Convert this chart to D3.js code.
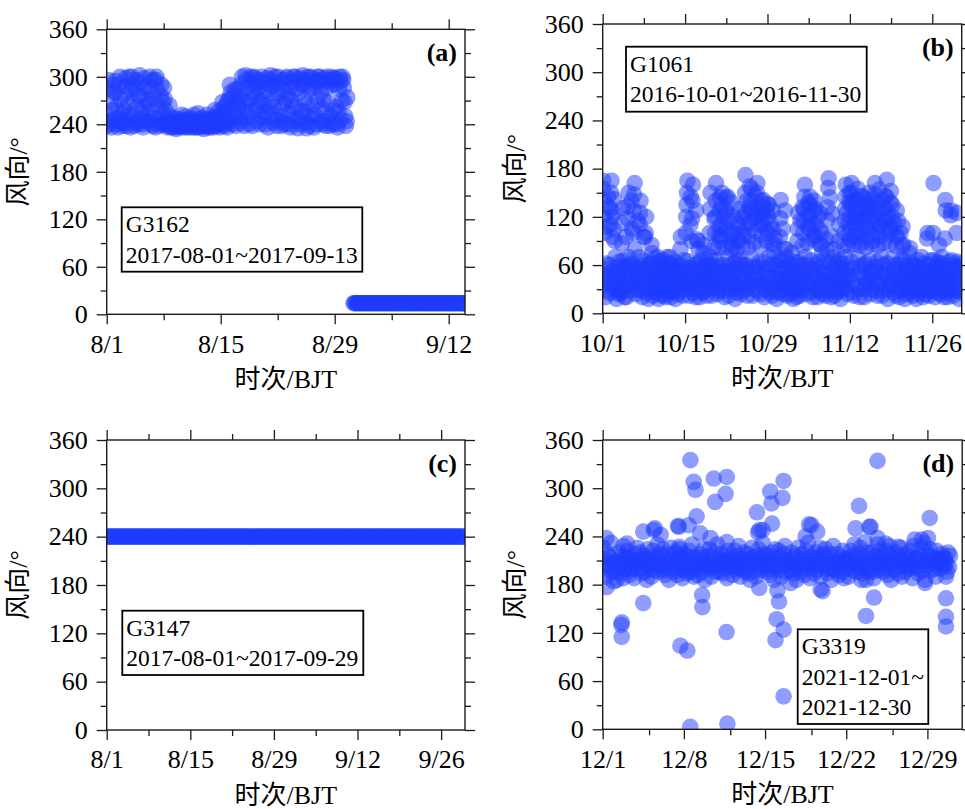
<!DOCTYPE html>
<html>
<head>
<meta charset="utf-8">
<script src="https://cdn.jsdelivr.net/npm/d3@7"></script>
<style>
  body { margin: 0; background: #fff; }
</style>
</head>
<body>
<svg id="chart" width="965" height="809"></svg>
<script>
// Wind direction (°), one string per day, evenly spaced samples; "-" = missing

// G3162, 2017-08-01 .. 2017-09-13
const dirA = [
  "238 252 296 285 244 240 270 236 258 290 246 280",
  "295 280 262 240 236 248 290 300 272 244 254 238",
  "242 258 278 298 288 238 246 266 300 252 236 284",
  "300 290 270 250 238 242 284 296 262 240 276 246",
  "302 292 276 256 240 236 262 298 286 244 250 270",
  "244 266 288 300 280 258 240 238 296 272 248 236",
  "296 300 284 264 248 238 242 276 290 254 240 268",
  "286 272 258 246 240 236 238 244 264 250 240 236",
  "240 236 244 238 248 242 234 240 246 236 242 238",
  "238 246 252 240 236 244 238 242 250 236 240 246",
  "242 236 240 248 244 238 236 240 252 242 236 244",
  "236 244 254 246 238 240 236 242 248 240 234 238",
  "240 238 246 252 242 236 240 244 236 248 242 238",
  "246 236 240 258 250 242 238 248 256 240 236 244",
  "252 240 268 260 244 238 256 264 248 236 270 242",
  "272 290 280 262 246 240 258 276 284 250 238 266",
  "284 270 262 250 242 276 290 300 268 246 238 258",
  "302 296 286 268 250 240 272 292 300 256 238 280",
  "298 300 290 276 258 244 264 286 296 240 252 270",
  "300 294 280 266 248 240 256 282 298 236 262 290",
  "296 302 288 270 252 242 262 290 300 246 238 278",
  "300 292 278 258 244 238 250 284 296 266 240 272",
  "298 300 292 276 254 240 236 270 288 246 262 300",
  "294 300 284 262 244 235 248 280 298 240 256 290",
  "302 296 290 272 256 242 235 266 300 250 238 284",
  "300 298 286 264 248 236 252 288 294 240 270 300",
  "296 300 292 280 260 244 240 272 298 254 238 286",
  "300 294 268 244 238 250 296 300 290 240 258 298",
  "298 290 262 240 236 256 284 300 294 246 270 300",
  "296 286 268 250 238 244 274 - - - - -",
  "- - 14 14 14 14 14 14",
  "14 14 14 14 14 14 14 14",
  "14 14 14 14 14 14 14 14",
  "14 14 14 14 14 14 14 14",
  "14 14 14 14 14 14 14 14",
  "14 14 14 14 14 14 14 14",
  "14 14 14 14 14 14 14 14",
  "14 14 14 14 14 14 14 14",
  "14 14 14 14 14 14 14 14",
  "14 14 14 14 14 14 14 14",
  "14 14 14 14 14 14 14 14",
  "14 14 14 14 14 14 14 14",
  "14 14 14 14 14 14 14 14",
  "14 14 14 14 14 14 14 14"
];

// G1061, 2016-10-01 .. 2016-11-30
const dirB = [
  "155 165 140 120 100 55 35 20 40 62 28 48 108 145 132",
  "60 45 25 38 110 130 150 165 120 95 52 32 125 104 142",
  "90 70 50 30 18 42 58 36 24 64 46 28",
  "25 40 55 87 112 131 66 30 48 20 58 36 95",
  "20 38 58 118 133 150 70 45 28 52 34 62 140 105",
  "35 60 100 128 148 162 80 42 24 54 30 46 115",
  "50 30 70 110 125 140 60 28 44 20 56 38 95",
  "40 65 95 100 120 55 25 35 48 18 60 30",
  "30 48 62 85 75 40 22 55 36 68 26 44",
  "44 28 60 70 36 18 52 40 24 64 32 56",
  "38 55 22 66 45 30 60 48 20 52 34 70",
  "50 34 62 25 44 70 36 20 58 40 28 54",
  "28 46 64 38 18 56 42 32 60 24 50 36",
  "36 52 80 95 60 28 45 22 40 66 30 54",
  "40 100 120 135 150 165 65 30 48 22 56 36 110 145",
  "48 90 118 140 160 55 25 38 60 30 44 20 128 92",
  "34 62 90 80 44 20 56 30 66 40 26 50",
  "42 75 85 58 28 50 36 66 22 46 60 32",
  "30 55 100 130 150 70 40 22 48 60 34 54 82 118",
  "46 100 120 140 162 66 32 54 24 40 58 28 82 96 108 128 144 90",
  "38 95 110 135 150 60 28 48 122 36 52 20 82 104 128 144",
  "52 105 125 145 70 35 22 44 115 60 30 46 88 96 138 80",
  "40 85 100 120 62 30 50 18 56 36 66 26 78 92 112",
  "34 90 110 130 66 45 24 56 100 38 60 28 84 120 96",
  "48 105 125 150 172 60 30 40 140 22 54 36 82 96 112 132 158",
  "36 115 130 140 155 68 42 22 125 50 30 58 88 102 118 146",
  "44 120 130 150 162 58 28 50 110 38 64 24 84 98 140 124",
  "38 110 125 132 141 64 34 20 118 46 56 30 90 104 128 136",
  "52 100 120 135 70 40 26 46 110 60 32 22 86 128 104",
  "30 75 85 93 60 44 18 36 54 26 66 40",
  "42 95 118 141 66 28 50 24 105 38 58 32 80 128",
  "36 70 80 55 22 46 30 62 40 24 52 34",
  "44 75 60 32 18 52 38 26 64 30 48 20",
  "30 90 105 125 64 40 22 54 115 36 60 28 84 132",
  "46 100 115 130 145 160 70 34 52 24 40 60 88 108 122 138",
  "38 105 120 135 145 66 26 50 110 32 56 20 92 128 98 140",
  "52 95 110 130 60 30 44 20 120 38 64 28 86 104 124",
  "34 85 100 75 48 24 58 40 66 30 50 22 92",
  "42 79 116 132 156 168 62 28 144 50 36 20 96 124",
  "36 70 80 54 22 46 30 60 40 26 64 34",
  "48 90 110 66 38 18 56 28 44 62 32 52 84",
  "40 100 115 130 145 160 70 32 125 54 24 46 84 98 112 138 150 92",
  "46 105 120 135 150 162 64 26 140 38 56 22 86 96 112 128 142 118",
  "34 95 110 125 140 155 68 48 118 30 58 20 84 102 132 146 88",
  "50 100 115 130 145 60 30 20 135 42 62 36 82 94 108 124 140",
  "38 105 120 135 150 66 44 24 128 56 30 52 86 98 114 142 90",
  "44 115 130 148 162 58 28 52 122 36 64 22 84 100 108 136 154",
  "36 95 110 125 140 70 40 22 132 50 28 60 88 104 118 146",
  "48 115 130 145 166 62 30 18 120 42 54 34 86 98 108 138 152",
  "40 104 120 135 68 34 54 26 112 46 60 22 84 96 128",
  "32 95 115 60 44 20 50 38 100 28 66 42 84 108",
  "46 85 66 30 18 56 40 24 60 34 52 28",
  "38 75 81 52 26 44 62 34 22 58 40 30",
  "42 60 30 18 50 36 66 24 46 56 28 38",
  "36 56 70 28 46 20 62 40 30 52 24 44",
  "44 93 100 60 32 22 52 38 66 28 48 34",
  "30 100 162 66 42 20 54 36 58 26 46 64",
  "48 85 62 34 24 56 40 70 28 52 36 20",
  "36 93 141 128 60 26 46 20 54 32 64 40",
  "44 122 128 66 30 52 22 38 60 28 48 56",
  "40 100 125 64 28 50 18 34 58 44 26 62"
];

// G3147, 2017-08-01 .. 2017-09-29
const dirC = [
  "240 240 240 240", "240 240 240 240", "240 240 240 240", "240 240 240 240",
  "240 240 240 240", "240 240 240 240", "240 240 240 240", "240 240 240 240",
  "240 240 240 240", "240 240 240 240", "240 240 240 240", "240 240 240 240",
  "240 240 240 240", "240 240 240 240", "240 240 240 240", "240 240 240 240",
  "240 240 240 240", "240 240 240 240", "240 240 240 240", "240 240 240 240",
  "240 240 240 240", "240 240 240 240", "240 240 240 240", "240 240 240 240",
  "240 240 240 240", "240 240 240 240", "240 240 240 240", "240 240 240 240",
  "240 240 240 240", "240 240 240 240", "240 240 240 240", "240 240 240 240",
  "240 240 240 240", "240 240 240 240", "240 240 240 240", "240 240 240 240",
  "240 240 240 240", "240 240 240 240", "240 240 240 240", "240 240 240 240",
  "240 240 240 240", "240 240 240 240", "240 240 240 240", "240 240 240 240",
  "240 240 240 240", "240 240 240 240", "240 240 240 240", "240 240 240 240",
  "240 240 240 240", "240 240 240 240", "240 240 240 240", "240 240 240 240",
  "240 240 240 240", "240 240 240 240", "240 240 240 240", "240 240 240 240",
  "240 240 240 240", "240 240 240 240", "240 240 240 240", "240 240 240 240"
];

// G3319, 2021-12-01 .. 2021-12-30
const dirD = [
  "226 212 198 190 206 218 202 214 232 196 208 184",
  "208 196 186 202 220 210 194 216 204 228 200 212",
  "214 222 204 192 198 212 208 200 188 218 206 226",
  "200 210 220 206 194 202 216 196 212 186 224 204",
  "214 200 190 208 222 204 198 212 230 196 206 218",
  "204 216 224 198 192 210 202 218 186 208 226 200",
  "210 196 204 220 212 192 206 224 200 214 188 218",
  "198 208 216 194 202 222 210 196 230 206 190 214",
  "212 200 192 206 218 204 196 214 224 186 208 202",
  "206 216 224 200 190 208 202 220 196 212 230 204",
  "196 210 218 204 194 214 208 200 188 222 206 212",
  "214 202 192 210 222 198 206 216 228 200 190 208",
  "200 212 220 196 204 218 210 194 186 206 226 214",
  "208 196 190 206 216 224 202 212 198 232 204 218",
  "216 204 196 210 200 192 214 220 206 186 224 202",
  "202 214 222 198 190 208 204 218 228 196 210 206",
  "210 198 206 220 212 194 200 216 186 208 226 202",
  "196 208 218 204 192 212 222 200 232 206 188 214",
  "214 202 194 208 220 198 206 212 226 190 204 218",
  "204 216 224 200 194 210 202 218 186 208 228 198",
  "198 210 218 206 192 202 214 196 222 188 208 212",
  "212 200 190 208 222 216 204 198 230 206 196 214",
  "206 218 226 200 194 210 202 214 186 220 204 196",
  "200 212 220 196 188 206 216 208 230 198 222 204",
  "214 204 196 210 222 200 192 218 228 206 186 212",
  "208 198 206 220 212 194 202 216 226 190 210 204",
  "196 210 218 204 200 214 222 206 188 228 202 212",
  "212 200 194 208 216 226 204 198 232 186 210 220",
  "204 216 224 210 198 206 214 200 190 222 208 212",
  "210 200 208 218 214 204 212 206 196 220 202 216"
];
// G3319 departures from the main band: day offset from 12-01 and direction
const outDayD = [
  0.3, 0.35, 1.6, 1.65, 1.64, 1.76, 2.1, 3.5, 3.5, 4.4, 4.5, 5.0,
  6.5, 6.55, 6.6, 6.7, 7.3, 7.4, 7.55, 7.56, 7.85, 8.0, 8.1, 8.4,
  8.57, 8.6, 9.3, 9.58, 9.7, 10.6, 10.68, 10.7, 10.7, 10.75,
  13.3, 13.4, 13.5, 13.5, 13.8, 14.45, 14.55, 14.6, 14.9, 15.0,
  15.06, 15.2, 15.5, 15.6, 15.6, 15.6, 16.2,
  17.5, 17.8, 18.0, 18.5, 18.8, 18.96,
  21.8, 22.1, 22.3, 22.6, 22.7, 23.0, 23.1, 23.4, 23.7, 23.7, 24.4, 25.5,
  26.9, 27.5, 27.8, 28.05, 28.2, 29.6, 29.6, 29.6, 29.6
];
const outDirD = [
  238, 177, 130, 133, 115, 188, 231, 246, 157, 248, 250, 242,
  253, 252, 227, 104, 98, 254, 3, 335, 308, 298, 265, 244,
  167, 152, 238, 312, 283, 293, 121, 314, 233, 7,
  270, 245, 248, 176, 248, 296, 281, 256, 111, 137,
  173, 159, 288, 309, 124, 41, 182,
  240, 255, 254, 246, 174, 172,
  250, 278, 186, 233, 141, 252, 252, 164, 334, 238, 231, 227,
  236, 236, 182, 238, 263, 190, 163, 140, 128
];

// Axis ticks
const yTicks = [0, 60, 120, 180, 240, 300, 360];
const yMinor = [30, 90, 150, 210, 270, 330];

const ticksA  = ["2017-08-01", "2017-08-15", "2017-08-29", "2017-09-12"];
const labelsA = ["8/1", "8/15", "8/29", "9/12"];
const minorA  = ["2017-08-08", "2017-08-22", "2017-09-05"];

const ticksB  = ["2016-10-01", "2016-10-15", "2016-10-29", "2016-11-12", "2016-11-26"];
const labelsB = ["10/1", "10/15", "10/29", "11/12", "11/26"];
const minorB  = ["2016-10-08", "2016-10-22", "2016-11-05", "2016-11-19"];

const ticksC  = ["2017-08-01", "2017-08-15", "2017-08-29", "2017-09-12", "2017-09-26"];
const labelsC = ["8/1", "8/15", "8/29", "9/12", "9/26"];
const minorC  = ["2017-08-08", "2017-08-22", "2017-09-05", "2017-09-19"];

const ticksD  = ["2021-12-01", "2021-12-08", "2021-12-15", "2021-12-22", "2021-12-29"];
const labelsD = ["12/1", "12/8", "12/15", "12/22", "12/29"];
const minorD  = ["2021-12-05", "2021-12-12", "2021-12-19", "2021-12-26"];

const FONT = "'Liberation Serif', 'Times New Roman', 'Noto Sans CJK SC', serif";
const parse = d3.utcParse("%Y-%m-%d");
const DAY = 864e5;

function expand(days, start) {
  const t0 = parse(start).getTime();
  const pts = [];
  days.forEach((s, k) => {
    const vals = s.trim().split(/\s+/);
    const n = vals.length;
    vals.forEach((v, i) => {
      if (v === "-") return;
      pts.push({ t: new Date(t0 + (k + (i + 0.5) / n) * DAY), v: +v });
    });
  });
  return pts;
}

const outPtsD = outDayD.map((d, i) => ({
  t: new Date(parse("2021-12-01").getTime() + d * DAY), v: outDirD[i]
}));

const panels = [
  { id: "a", x: 106.7, y: 29.3, w: 358.3, h: 285, titleX: 18, domain: ["2017-08-01", "2017-09-14"],
    pts: expand(dirA, "2017-08-01"), ticks: ticksA, labels: labelsA, minor: minorA,
    note: ["G3162", "2017-08-01~2017-09-13"], box: { x: 121.7, y: 207.3, w: 240.6, h: 64.4 } },
  { id: "b", x: 602.7, y: 24, w: 359, h: 289.3, titleX: 515, domain: ["2016-10-01", "2016-12-01"],
    pts: expand(dirB, "2016-10-01"), ticks: ticksB, labels: labelsB, minor: minorB,
    note: ["G1061", "2016-10-01~2016-11-30"], box: { x: 626, y: 46.7, w: 240.7, h: 65 } },
  { id: "c", x: 106.7, y: 440, w: 358.3, h: 290, titleX: 18, domain: ["2017-08-01", "2017-09-30"],
    pts: expand(dirC, "2017-08-01"), ticks: ticksC, labels: labelsC, minor: minorC,
    note: ["G3147", "2017-08-01~2017-09-29"], box: { x: 122.3, y: 610.7, w: 241, h: 64.3 } },
  { id: "d", x: 602.7, y: 440, w: 359.5, h: 289.3, titleX: 515, domain: ["2021-12-01", "2022-01-01"],
    pts: expand(dirD, "2021-12-01").concat(outPtsD), ticks: ticksD, labels: labelsD, minor: minorD,
    note: ["G3319", "2021-12-01~", "2021-12-30"], box: { x: 797.7, y: 629.3, w: 130.6, h: 94.7 } }
];

const svg = d3.select("#chart");
svg.append("rect").attr("width", 965).attr("height", 809).attr("fill", "#fff");

const AX = "#1a1a1a";
const R = 8.3;

panels.forEach(p => {
  const x = d3.scaleUtc().domain(p.domain.map(parse)).range([0, p.w]);
  const y = d3.scaleLinear().domain([0, 360]).range([p.h, 0]);
  const g = svg.append("g").attr("transform", `translate(${p.x},${p.y})`);

  g.append("clipPath").attr("id", "clip-" + p.id)
    .append("rect").attr("width", p.w).attr("height", p.h);

  g.append("g").attr("clip-path", `url(#clip-${p.id})`)
    .selectAll("circle").data(p.pts).join("circle")
    .attr("cx", d => x(d.t)).attr("cy", d => y(d.v)).attr("r", R)
    .attr("fill", "rgb(30,60,255)").attr("fill-opacity", 0.5);

  const tv = p.ticks.map(parse), mv = p.minor.map(parse);
  const lab = new Map(tv.map((t, i) => [t.getTime(), p.labels[i]]));

  const style = sel => {
    sel.attr("font-family", FONT).attr("font-size", 26);
    sel.select(".domain").remove();
    sel.selectAll("line").attr("stroke", AX).attr("stroke-width", 1.3);
    sel.selectAll("text").attr("fill", "#000")
      .style("font-family", FONT).style("font-size", "26px");
  };

  // bottom
  g.append("g").attr("transform", `translate(0,${p.h})`)
    .call(d3.axisBottom(x).tickValues(tv).tickFormat(t => lab.get(t.getTime())).tickSize(10).tickPadding(10))
    .call(style);
  g.append("g").attr("transform", `translate(0,${p.h})`)
    .call(d3.axisBottom(x).tickValues(mv).tickFormat("").tickSize(6)).call(style);
  // top
  g.append("g").call(d3.axisTop(x).tickValues(tv).tickFormat("").tickSize(10)).call(style);
  g.append("g").call(d3.axisTop(x).tickValues(mv).tickFormat("").tickSize(6)).call(style);
  // left
  g.append("g").call(d3.axisLeft(y).tickValues(yTicks).tickSize(10).tickPadding(9)).call(style);
  g.append("g").call(d3.axisLeft(y).tickValues(yMinor).tickFormat("").tickSize(6)).call(style);
  // right
  g.append("g").attr("transform", `translate(${p.w},0)`)
    .call(d3.axisRight(y).tickValues(yTicks).tickFormat("").tickSize(10)).call(style);
  g.append("g").attr("transform", `translate(${p.w},0)`)
    .call(d3.axisRight(y).tickValues(yMinor).tickFormat("").tickSize(6)).call(style);

  // frame
  g.append("rect").attr("width", p.w).attr("height", p.h)
    .attr("fill", "none").attr("stroke", AX).attr("stroke-width", 1.4);

  // panel letter
  g.append("text").attr("x", p.w - 8).attr("y", 32).attr("text-anchor", "end")
    .style("font-family", FONT).style("font-size", "26px").style("font-weight", "bold")
    .text(`(${p.id})`);

  // axis titles
  g.append("text").attr("x", p.w / 2).attr("y", p.h + 74).attr("text-anchor", "middle")
    .style("font-family", FONT).style("font-size", "26px").text("时次/BJT");
  g.append("text")
    .attr("transform", `translate(${p.titleX - p.x},${p.h / 2}) rotate(-90)`)
    .attr("text-anchor", "middle").attr("dominant-baseline", "central")
    .style("font-family", FONT).style("font-size", "26px").text("风向/°");

  // station / period box
  const b = p.box;
  const bg = svg.append("g");
  bg.append("rect").attr("x", b.x).attr("y", b.y).attr("width", b.w).attr("height", b.h)
    .attr("fill", "#fff").attr("stroke", "#000").attr("stroke-width", 1.8);
  p.note.forEach((s, i) => {
    bg.append("text").attr("x", b.x + 4).attr("y", b.y + 25 + i * 30.5)
      .style("font-family", FONT).style("font-size", "23.5px").text(s);
  });
});
</script>
</body>
</html>
